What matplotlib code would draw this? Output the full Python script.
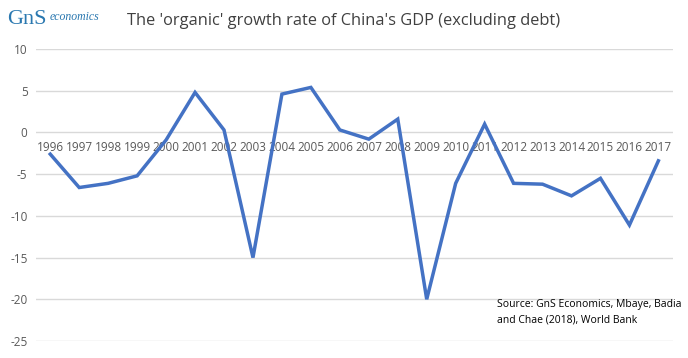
import matplotlib.pyplot as plt

years = [str(y) for y in range(1996, 2018)]
growth = [-2.6, -6.6, -6.1, -5.2, -0.9, 4.8, 0.3, -15.0, 4.6, 5.4, 0.3,
          -0.8, 1.6, -20.0, -6.1, 1.0, -6.1, -6.2, -7.6, -5.5, -11.1, -3.4]
yticks = [10, 5, 0, -5, -10, -15, -20, -25]

title = "The 'organic' growth rate of China's GDP (excluding debt)"
source = "Source: GnS Economics, Mbaye, Badia\nand Chae (2018), World Bank"

plt.rcParams['font.family'] = ['Open Sans', 'DejaVu Sans']

fig = plt.figure(figsize=(6.88, 3.58), dpi=100)
ax = fig.add_axes([0.052, 0.0475, 0.926, 0.8155])

x = list(range(len(years)))
ax.plot(x, growth, color='#4472C4', linewidth=2.5, solid_joinstyle='miter')

ax.set_xlim(-0.5, len(years) - 0.5)
ax.set_ylim(-25, 10)
ax.set_yticks(yticks)
ax.set_yticklabels([str(v) for v in yticks])
ax.grid(axis='y', color='#d9d9d9', linewidth=1)
ax.set_axisbelow(True)

for s in ['top', 'right', 'left']:
    ax.spines[s].set_visible(False)
ax.spines['bottom'].set_position(('data', 0))
ax.spines['bottom'].set_visible(False)

ax.set_xticks(x)
ax.set_xticklabels(years)
ax.tick_params(axis='x', length=0, pad=6, labelsize=8.5, labelcolor='#595959')
ax.tick_params(axis='y', length=0, pad=6, labelsize=8.5, labelcolor='#595959')

fig.text(0.5, 0.94, title, ha='center', va='center', fontsize=11.8, color='#404040')

# logo
logo = '#2a78b0'
fig.text(0.010, 0.945, 'GnS', ha='left', va='center', fontsize=16,
         family='Liberation Serif', color=logo)
fig.text(0.072, 0.952, 'economics', ha='left', va='center', fontsize=8.5,
         family='Liberation Serif', style='italic', color=logo)

fig.text(0.722, 0.128, source, ha='left', va='center', fontsize=7.5,
         color='#000000', linespacing=1.5)

fig.savefig('out.png', dpi=100)
